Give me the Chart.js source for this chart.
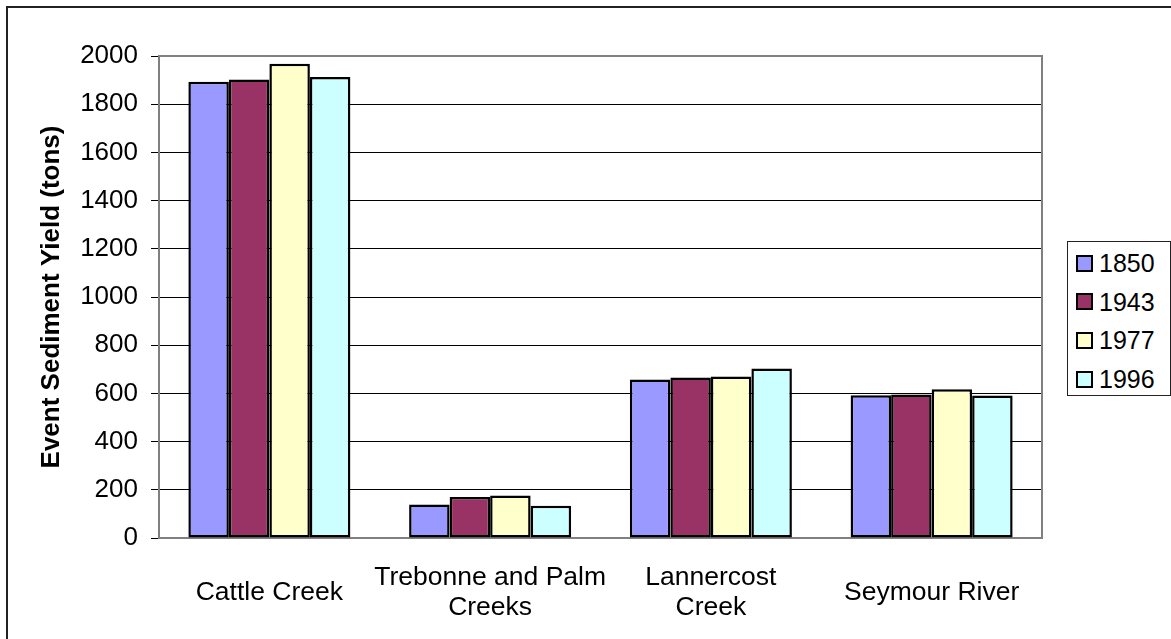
<!DOCTYPE html>
<html>
<head>
<meta charset="utf-8">
<title>Event Sediment Yield</title>
<script src="https://cdn.jsdelivr.net/npm/chart.js@4.4.0/dist/chart.umd.min.js"></script>
<style>
  html, body {
    margin: 0;
    padding: 0;
    background: #ffffff;
    overflow: hidden;
  }
  #wrap {
    position: relative;
    width: 1171px;
    height: 639px;
  }
  #frame {
    position: absolute;
    left: 6px;
    top: 6px;
    width: 1180px;
    height: 650px;
    border-left: 2px solid #222;
    border-top: 2px solid #222;
    pointer-events: none;
  }
  #legend {
    position: absolute;
    left: 1067px;
    top: 241px;
    width: 104px;
    height: 155px;
    border: 1px solid #222;
    background: #fff;
    box-sizing: border-box;
    font-family: "Liberation Sans", Arial, sans-serif;
    font-size: 25px;
    color: #000;
  }
  .item {
    position: absolute;
    left: 8px;
    height: 30px;
    line-height: 30px;
    display: flex;
    align-items: center;
  }
  .swatch {
    width: 13px;
    height: 13px;
    border: 2px solid #000;
    margin-right: 6px;
  }
</style>
</head>
<body>
<div id="wrap">
  <canvas id="chart" width="1171" height="639"></canvas>
  <div id="frame"></div>
  <div id="legend"></div>
</div>
<script>
// Chart data
const categories = [
  'Cattle Creek',
  ['Trebonne and Palm', 'Creeks'],
  ['Lannercost', 'Creek'],
  'Seymour River'
];
const years = ['1850', '1943', '1977', '1996'];
const yield1850 = [1893, 139, 658, 592];
const yield1943 = [1903, 170, 666, 595];
const yield1977 = [1968, 176, 670, 617];
const yield1996 = [1913, 134, 703, 591];
const yTicks = [0, 200, 400, 600, 800, 1000, 1200, 1400, 1600, 1800, 2000];

const colors = ['#9999FF', '#993366', '#FFFFCC', '#CCFFFF'];
const font = '"Liberation Sans", Arial, sans-serif';

// Gray box round the plot area
const plotBorder = {
  id: 'plotBorder',
  beforeDatasetsDraw(chart) {
    const { ctx, chartArea } = chart;
    ctx.save();
    ctx.strokeStyle = '#808080';
    ctx.lineWidth = 2;
    ctx.strokeRect(chartArea.left, chartArea.top, chartArea.right - chartArea.left, chartArea.bottom - chartArea.top);
    ctx.restore();
  }
};

function makeDataset(label, data, i) {
  return {
    label: label,
    data: data,
    backgroundColor: colors[i],
    borderColor: '#000000',
    borderWidth: 2.5,
    borderSkipped: false,
    categoryPercentage: 0.734,
    barPercentage: 1.0
  };
}

const ctx = document.getElementById('chart').getContext('2d');
const chart = new Chart(ctx, {
  type: 'bar',
  data: {
    labels: categories,
    datasets: [
      makeDataset(years[0], yield1850, 0),
      makeDataset(years[1], yield1943, 1),
      makeDataset(years[2], yield1977, 2),
      makeDataset(years[3], yield1996, 3)
    ]
  },
  options: {
    responsive: false,
    animation: false,
    layout: {
      padding: { top: 56, right: 129, bottom: 0, left: 0 }
    },
    plugins: {
      legend: { display: false },
      tooltip: { enabled: false }
    },
    scales: {
      x: {
        grid: { display: false, drawTicks: false },
        border: { color: '#808080', width: 2 },
        ticks: {
          color: '#000',
          padding: 40,
          maxRotation: 0,
          autoSkip: false,
          crossAlign: 'center',
          font: { family: font, size: 26.5, lineHeight: 1.13 }
        },
        afterFit: function(scale) {
          scale.height = 101;
        }
      },
      y: {
        min: 0,
        max: 2000,
        afterBuildTicks: function(scale) {
          scale.ticks = yTicks.map(v => ({ value: v }));
        },
        grid: {
          color: function(c) {
            return (c.tick && (c.tick.value === 0 || c.tick.value === 2000)) ? 'rgba(0,0,0,0)' : '#000';
          },
          tickColor: '#000',
          tickLength: 8,
          lineWidth: 1
        },
        border: { color: '#808080', width: 2 },
        ticks: {
          color: '#000',
          padding: 13,
          font: { family: font, size: 26 },
          callback: function(value) {
            return String(value);
          }
        },
        title: {
          display: true,
          text: 'Event Sediment Yield (tons)',
          color: '#000',
          padding: { top: 36, bottom: 0 },
          font: { family: font, size: 26, weight: 'bold' }
        },
        afterFit: function(scale) {
          scale.width = 159;
        }
      }
    }
  },
  plugins: [plotBorder]
});

// Legend box on the right
const legend = document.getElementById('legend');
years.forEach((year, i) => {
  const item = document.createElement('div');
  item.className = 'item';
  item.style.top = (6 + i * 38.7) + 'px';
  item.innerHTML = `<span class="swatch" style="background:${colors[i]}"></span>${year}`;
  legend.appendChild(item);
});
</script>
</body>
</html>
